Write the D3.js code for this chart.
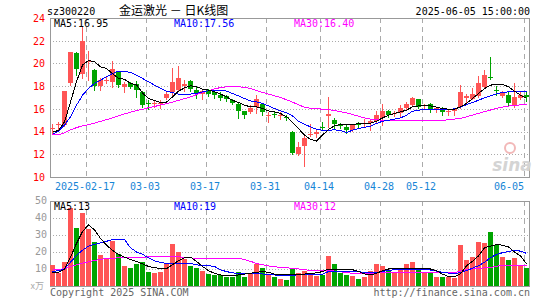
<!DOCTYPE html>
<html>
<head>
<meta charset="utf-8">
<script src="https://cdn.jsdelivr.net/npm/d3@7"></script>
<style>
  body { margin: 0; background: #fff; }
  text { font-family: "DejaVu Sans Mono", monospace; font-size: 10px; }
</style>
</head>
<body>
<div id="kline-chart"></div>
<script>
// Data
const openP = [14.25,14.55,14.6,18.25,20.95,19.05,20.15,19.4,18.0,18.45,
  18.4,19.25,17.9,18.25,18.2,17.5,16.55,16.4,16.4,16.95,
  17.5,17.65,18.0,18.45,17.7,17.35,17.65,17.45,17.25,17.1,
  16.8,16.4,15.8,15.75,16.2,16.4,15.4,15.55,15.4,15.25,
  14.0,12.0,12.75,13.7,13.75,14.4,15.4,15.0,14.6,14.4,
  14.15,14.75,14.65,14.75,14.9,15.2,15.8,15.55,15.6,16.05,
  16.3,16.85,16.25,16.45,15.9,16.0,15.8,15.8,16.2,17.0,
  16.9,17.15,17.95,18.8,17.7,17.15,17.2,16.3,17.0,17.2];
const closeP = [14.35,14.65,17.55,21.0,19.5,22.0,20.25,18.05,18.5,18.55,
  19.55,18.1,18.15,17.95,17.65,16.3,16.4,16.5,16.55,17.3,
  18.4,18.75,18.15,17.75,17.3,17.6,17.35,17.25,16.95,16.85,
  16.5,15.8,15.45,16.05,16.9,15.7,15.45,15.5,15.45,15.2,
  12.1,12.65,13.45,13.8,13.95,14.3,15.55,14.65,14.5,14.15,
  14.6,14.55,14.75,14.9,15.5,15.8,15.5,15.6,16.05,16.45,
  16.95,16.2,16.35,16.0,16.05,15.7,15.85,16.0,17.45,17.1,
  17.35,18.25,18.95,18.7,17.6,17.45,16.5,17.05,17.2,17.05];
const highP = [14.7,14.85,17.6,21.05,21.0,23.25,21.1,19.55,18.7,18.8,
  20.2,19.3,18.4,18.4,18.45,17.55,16.75,16.75,16.75,17.5,
  19.6,19.8,18.55,18.5,17.95,17.65,17.75,17.55,17.45,17.2,
  16.9,16.5,15.85,16.35,17.2,16.45,15.75,15.75,15.75,15.45,
  14.05,13.05,13.7,14.7,14.25,14.85,17.05,15.2,14.75,14.55,
  14.7,14.85,15.1,15.15,15.8,16.4,15.9,15.8,16.3,16.6,
  17.05,16.9,16.45,16.55,16.15,16.15,16.0,16.1,18.1,17.35,
  17.8,18.9,19.4,20.6,18.05,17.6,17.45,18.25,17.45,17.45];
const lowP = [13.8,14.2,14.5,18.1,19.0,18.7,18.5,17.65,17.65,18.3,
  17.95,17.95,17.5,17.8,17.05,16.15,15.95,16.2,16.05,16.9,
  17.2,17.55,17.55,17.55,16.95,16.85,17.1,17.0,16.8,16.65,
  16.4,15.2,15.2,15.6,15.65,15.5,14.85,15.3,15.1,15.0,
  12.05,11.95,11.0,13.65,13.55,14.2,14.4,14.25,14.3,13.9,
  14.05,14.3,14.4,14.1,14.8,14.55,15.3,15.35,15.4,15.9,
  16.25,16.1,15.95,15.75,15.75,15.5,15.5,15.45,16.1,16.55,
  16.85,17.05,17.85,18.65,17.2,17.05,16.3,16.2,16.85,16.7];

const ma5 = [13.95,14.1,14.85,16.6,18.4,19.85,20.25,20.15,19.7,19.55,
  19.1,18.7,18.6,18.25,18.1,17.4,16.9,16.75,16.55,16.6,
  17.05,17.56,17.85,18.03,17.94,17.74,17.65,17.5,17.3,17.06,
  16.76,16.56,16.32,16.18,16.18,16.03,15.82,15.74,15.59,15.3,
  14.8,14.26,13.68,13.32,13.15,13.68,14.2,14.5,14.62,14.62,
  14.65,14.68,14.68,14.74,14.91,15.2,15.44,15.59,15.74,15.88,
  16.18,16.26,16.32,16.26,16.15,16.03,15.97,15.97,16.18,16.47,
  16.91,17.35,17.79,18.09,18.15,18.15,17.94,17.56,17.2,16.95];
const ma10 = [13.75,14.03,14.56,15.3,16.32,17.2,17.8,18.24,18.53,18.82,
  19.12,19.32,19.32,19.2,18.97,18.68,18.38,18.09,17.8,17.56,
  17.44,17.3,17.3,17.3,17.35,17.5,17.59,17.62,17.65,17.56,
  17.35,17.15,16.91,16.7,16.62,16.47,16.26,16.03,15.82,15.65,
  15.38,14.91,14.65,14.41,14.2,14.12,14.12,14.15,14.09,13.91,
  14.12,14.26,14.38,14.47,14.71,14.91,15.0,15.09,15.2,15.44,
  15.79,15.88,15.94,15.97,15.94,15.94,15.94,16.0,16.15,16.38,
  16.56,16.76,16.97,17.15,17.32,17.44,17.5,17.56,17.56,17.56];
const ma30 = [13.7,13.72,13.9,14.15,14.35,14.5,14.6,14.75,14.9,15.05,
  15.2,15.4,15.55,15.7,15.85,15.95,16.1,16.2,16.35,16.45,
  16.6,16.75,16.9,17.05,17.25,17.45,17.6,17.75,17.88,17.94,
  17.94,17.94,17.9,17.8,17.6,17.45,17.3,17.15,17.0,16.8,
  16.6,16.35,16.15,16.05,16.0,15.98,15.93,15.85,15.75,15.65,
  15.5,15.35,15.2,15.1,15.05,15.0,15.0,15.0,15.0,15.0,
  15.0,15.0,15.0,14.98,14.98,14.98,15.05,15.1,15.15,15.3,
  15.45,15.6,15.75,15.9,16.05,16.15,16.25,16.3,16.35,16.4];

const volume = [12.5,7.7,14.2,46,34.4,42.7,33.3,25.8,18.3,16,
  26.7,19,11.9,10.8,13.1,14.2,8.5,7.9,8.5,13.5,
  24.6,20,16,11.9,10.4,9,7.3,6.2,6.7,5.2,
  5.2,8.1,5.2,7.7,13.1,10.4,7.1,5.2,4.4,3.8,
  10,7.7,9,7.7,5.8,6.2,17.7,13.1,7.5,6.2,
  5.8,4.2,5.5,9,12.9,11.9,9.6,7.7,9.6,12.9,
  14.2,10.4,7.5,7.5,5.2,5.2,5.2,4.6,24.4,15.4,
  17.1,25.8,25.2,31.5,24.4,17.1,15.4,16.2,11.5,10.4];
const vma5 = [7.7,8,10,17,25,32,36,33,28,24,
  21,18.5,17,15.5,14.5,13,11.5,10.8,10.3,10.2,
  12.5,15,16.5,17,14.5,11.5,9,7.5,6.5,6.2,
  6.2,6.5,7,7.5,8,8.5,8,7,6.7,6.7,
  6.7,6.7,7,7.5,7.7,8.5,10,10,10,9.8,
  9.6,8.5,7.1,6.5,7.5,9,10,10.4,10.4,10.4,
  10.4,10.4,10.4,10,9,7,5.6,5.5,7.1,11.9,
  14.5,17.7,22.5,23.5,24.4,24,23,20,17.7,13];
const vma10 = [8.5,9,10,14,18,21,23.5,24.5,25.4,26.3,
  27.3,27.3,27.3,22.5,20,18.7,16.5,14.8,13.8,13.3,
  13.3,13.3,13.3,13.3,12.5,11.9,11.9,11.5,9.5,8.5,
  7.7,7.4,7.1,7.1,7.1,7.1,6.8,6.5,6.2,6.3,
  6.4,6.5,6.5,6.5,6.5,7,8.5,8.6,8.7,8.8,
  8.6,8.3,8.1,7.9,8,8.5,9.2,9.6,9.6,9.6,
  9.6,9.6,9.6,9.4,8.8,8.1,7.6,7.1,8,9,
  10.5,11.9,14,16.7,18.5,19.6,20.3,21,20.5,19.2];
const vma30 = [9.6,9.6,10.2,11.5,12.5,13.4,14.2,15,15.6,16.2,
  16.4,16.5,16.6,16.7,16.9,17,17.1,17.1,17.1,17.1,
  17.1,17.1,17,16.5,16.3,16.3,16.3,16.3,16.3,16.3,
  16.3,16.3,15.5,14.5,13.3,12.5,11.8,11.3,11,10.7,
  10.4,10,9.6,9.2,9,9,9,8.8,8.3,7.9,
  7.5,7.3,7.2,7.4,7.7,7.8,8,8.1,8.1,8.1,
  8.1,8.1,8.1,8,7.9,7.8,7.7,7.7,9,9.5,
  10,10.3,10.7,11,11.5,12.3,12.3,12.3,12.3,12.3];

const priceTicks = [10, 12, 14, 16, 18, 20, 22, 24];
const volTicks = [10, 20, 30, 40, 50];
const dateTickIdx = [6, 16, 26, 36, 45, 55, 62, 79];
const dateTickLabels = ["2025-02-17", "03-03", "03-17", "03-31", "04-14", "04-28", "05-12", "06-05"];

const UP = "#ff5555", DOWN = "#00a400";

function createKlineChart() {
  const width = 545, height = 300;
  const left = 50, right = 529;

  const svg = d3.select("#kline-chart")
    .append("svg")
    .attr("width", width)
    .attr("height", height)
    .style("display", "block");

  svg.append("rect").attr("width", width).attr("height", height).attr("fill", "#fff");

  const idx = d3.range(closeP.length);
  const x = d3.scaleBand().domain(idx).range([left, right]).paddingInner(1 / 6).paddingOuter(0);
  const bw = x.bandwidth();
  const y = d3.scaleLinear().domain([10, 24]).range([177, 18]);
  const yv = d3.scaleLinear().domain([0, 50]).range([286, 201]);
  const px = v => Math.round(v) + 0.5;

  // Header
  svg.append("text").attr("x", 47).attr("y", 15).attr("fill", "#000").text("sz300220");
  svg.append("text").attr("x", 119).attr("y", 15)
    .style("font-family", "'Noto Sans CJK SC', sans-serif").style("font-size", "12px")
    .attr("fill", "#000").attr("xml:space", "preserve")
    .text("金运激光 － 日K线图");
  svg.append("text").attr("x", 530).attr("y", 15).attr("text-anchor", "end")
    .attr("fill", "#000").text("2025-06-05 15:00:00");

  // Panels: grid, frame
  function panel(ys, ticks, top, bottom) {
    const g = svg.append("g");
    g.selectAll(".hgrid").data(ticks.filter(t => px(ys(t)) > top + 1 && px(ys(t)) < bottom - 1))
      .enter().append("line")
      .attr("x1", left).attr("x2", right + 1)
      .attr("y1", d => px(ys(d))).attr("y2", d => px(ys(d)))
      .attr("stroke", "#aaa").attr("stroke-dasharray", "1,2");
    g.selectAll(".vgrid").data(dateTickIdx)
      .enter().append("line")
      .attr("x1", d => px(x(d))).attr("x2", d => px(x(d)))
      .attr("y1", top).attr("y2", bottom)
      .attr("stroke", "#aaa").attr("stroke-dasharray", "5,4");
    g.append("rect")
      .attr("x", left + 0.5).attr("y", top + 0.5)
      .attr("width", right - left).attr("height", bottom - top)
      .attr("fill", "none").attr("stroke", "#999");
  }
  panel(y, priceTicks, 18, 177);
  panel(yv, volTicks, 201, 286);

  // Sina watermark
  svg.append("circle").attr("cx", 510).attr("cy", 148).attr("r", 5)
    .attr("fill", "none").attr("stroke", "#f2b8b8").attr("stroke-width", 2);
  svg.append("text").attr("x", 512).attr("y", 171).attr("text-anchor", "middle")
    .style("font-family", "'DejaVu Sans', sans-serif").style("font-size", "17px")
    .style("font-style", "italic").style("font-weight", "bold")
    .attr("fill", "#d4d4d4").text("sina");

  // Price axis labels
  svg.selectAll(".plabel").data(priceTicks).enter().append("text")
    .attr("x", 45).attr("y", d => y(d)).attr("dy", "0.38em")
    .attr("text-anchor", "end").attr("fill", "#f00").text(d => d);

  // Volume axis labels
  svg.selectAll(".vlabel").data(volTicks).enter().append("text")
    .attr("x", 47).attr("y", d => yv(d)).attr("dy", "0.3em")
    .attr("text-anchor", "end").attr("fill", "#999").text(d => d);
  svg.append("text").attr("x", 44).attr("y", 289).attr("text-anchor", "end")
    .style("font-family", "'Noto Sans CJK SC', sans-serif").style("font-size", "9px")
    .attr("fill", "#aaa").text("x万");

  // Date labels
  svg.selectAll(".dlabel").data(dateTickIdx).enter().append("text")
    .attr("x", (d, i) => {
      const w = dateTickLabels[i].length * 6.02;
      let c = x(d) - 1;
      c = Math.max(53 + w / 2, Math.min(524 - w / 2, c));
      return c;
    })
    .attr("y", 190).attr("text-anchor", "middle").attr("fill", "#1785d6")
    .text((d, i) => dateTickLabels[i]);

  // Candles
  const candles = svg.append("g").selectAll("g").data(idx).enter().append("g");
  candles.append("line")
    .attr("x1", d => x(d) + 2.5).attr("x2", d => x(d) + 2.5)
    .attr("y1", d => Math.round(y(highP[d]))).attr("y2", d => Math.round(y(lowP[d])) + 1)
    .attr("stroke", d => closeP[d] >= openP[d] ? UP : DOWN);
  candles.append("rect")
    .attr("x", d => x(d)).attr("width", bw)
    .attr("y", d => Math.round(y(Math.max(openP[d], closeP[d]))))
    .attr("height", d => Math.max(1, Math.round(y(Math.min(openP[d], closeP[d]))) - Math.round(y(Math.max(openP[d], closeP[d])))))
    .attr("fill", d => closeP[d] >= openP[d] ? UP : DOWN)
    .attr("shape-rendering", "crispEdges");

  // Volume bars
  svg.append("g").selectAll("rect").data(idx).enter().append("rect")
    .attr("x", d => x(d)).attr("width", bw)
    .attr("y", d => Math.round(yv(volume[d])))
    .attr("height", d => yv(0) - Math.round(yv(volume[d])))
    .attr("fill", d => closeP[d] >= openP[d] ? UP : DOWN)
    .attr("shape-rendering", "crispEdges");

  // Moving average lines
  const maLine = (series, ys) => d3.line().x(d => x(d) + 2.5).y(d => ys(series[d]))(idx);
  [[ma30, "#ff00ff"], [ma10, "#0000ff"], [ma5, "#000"]].forEach(([s, c]) => {
    svg.append("path").attr("d", maLine(s, y)).attr("fill", "none")
      .attr("stroke", c).attr("shape-rendering", "crispEdges");
  });
  [[vma30, "#ff00ff"], [vma10, "#0000ff"], [vma5, "#000"]].forEach(([s, c]) => {
    svg.append("path").attr("d", maLine(s, yv)).attr("fill", "none")
      .attr("stroke", c).attr("shape-rendering", "crispEdges");
  });

  // MA legends
  const legend = [["MA5:16.95", "#000"], ["MA10:17.56", "#0000ff"], ["MA30:16.40", "#ff00ff"]];
  legend.forEach(([t, c], i) => {
    svg.append("text").attr("x", 54 + i * 120).attr("y", 27).attr("fill", c).text(t);
  });
  const vlegend = [["MA5:13", "#000"], ["MA10:19", "#0000ff"], ["MA30:12", "#ff00ff"]];
  vlegend.forEach(([t, c], i) => {
    svg.append("text").attr("x", 54 + i * 120).attr("y", 210).attr("fill", c).text(t);
  });

  // Footer
  svg.append("text").attr("x", 50).attr("y", 296).attr("fill", "#666").text("Copyright 2025 SINA.COM");
  svg.append("text").attr("x", 530).attr("y", 296).attr("text-anchor", "end")
    .attr("fill", "#666").text("http://finance.sina.com.cn");
}

document.addEventListener('DOMContentLoaded', createKlineChart);
</script>
</body>
</html>
